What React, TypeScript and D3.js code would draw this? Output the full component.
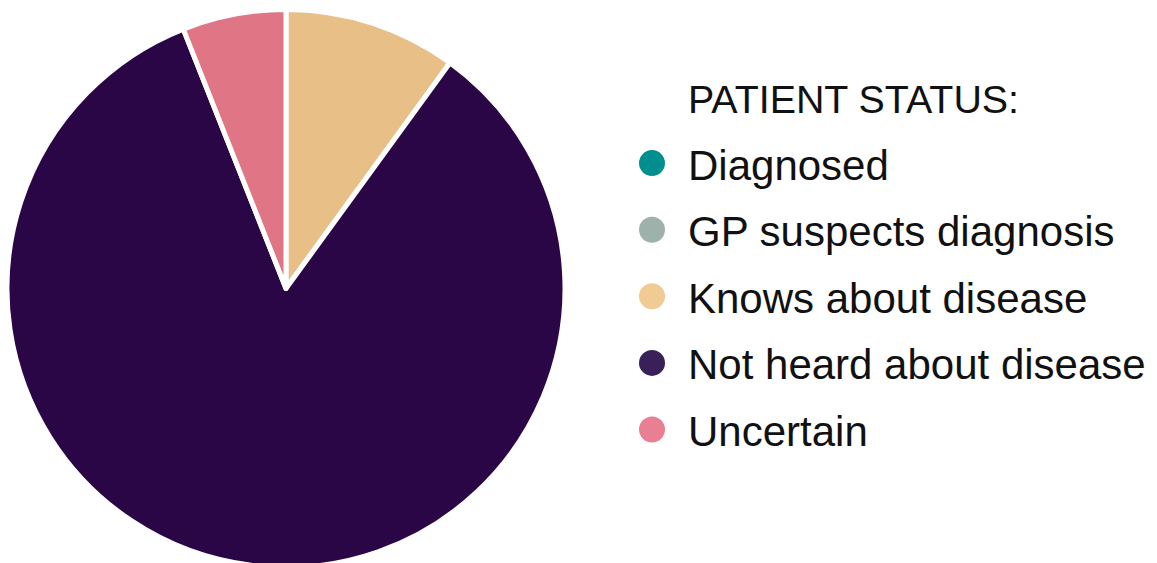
import React from "react";
import * as d3 from "d3";

const categories = ["Diagnosed", "GP suspects diagnosis", "Knows about disease", "Not heard about disease", "Uncertain"];
const values = [0, 0, 5, 42, 3];
const sliceColors = ["#008B8B", "#9BB0AA", "#E8BF87", "#2B0647", "#E07586"];
const legendColors = ["#008E8E", "#9DB2AB", "#F0CB93", "#3A2058", "#E87F92"];
const legendTitle = "PATIENT STATUS:";

export default function App() {
  const width = 1157;
  const height = 563;
  const cx = 286;
  const cy = 288.5;
  const r = 279;

  const pie = d3.pie<number>().sort(null).value((d) => d);
  const arcs = pie(values);
  const arcGen = d3.arc<d3.PieArcDatum<number>>().innerRadius(0).outerRadius(r);

  const legendX = 652;
  const textX = 688;
  const titleBaseline = 113;
  const rowStep = 66.6;

  return (
    <svg
      width={width}
      height={height}
      style={{ position: "absolute", left: 0, top: 0, background: "#fff" }}
      fontFamily="'Liberation Sans', Arial, Helvetica, sans-serif"
    >
      <g transform={`translate(${cx},${cy})`}>
        {arcs.map((a, i) =>
          a.value > 0 ? (
            <path key={i} d={arcGen(a) || ""} fill={sliceColors[i]} stroke="#fff" strokeWidth={5} strokeLinejoin="round" />
          ) : null
        )}
      </g>
      <text x={textX} y={titleBaseline} fontSize={39} fill="#111" textLength={331} lengthAdjust="spacingAndGlyphs">
        {legendTitle}
      </text>
      {categories.map((c, i) => {
        const baseline = titleBaseline + rowStep * (i + 1);
        return (
          <g key={c}>
            <circle cx={legendX} cy={baseline - 16.5} r={13} fill={legendColors[i]} />
            <text x={textX} y={baseline} fontSize={42} fill="#111">
              {c}
            </text>
          </g>
        );
      })}
    </svg>
  );
}
